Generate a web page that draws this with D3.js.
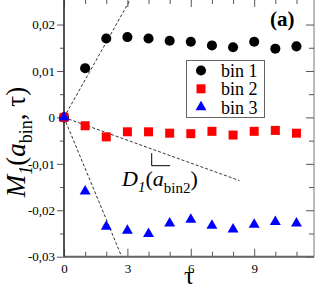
<!DOCTYPE html>
<html>
<head>
<meta charset="utf-8">
<script src="https://cdn.jsdelivr.net/npm/d3@7"></script>
<style>
  body { margin: 0; background: #fff; }
</style>
</head>
<body>
<div id="chart"></div>
<script>
// data
const tau = [0, 1, 2, 3, 4, 5, 6, 7, 8, 9, 10, 11];
const bin1 = [0, 0.0106, 0.0170, 0.0173, 0.0170, 0.0165, 0.0163, 0.0155, 0.0151, 0.0163, 0.0148, 0.0153];
const bin2 = [0, -0.0018, -0.0042, -0.0031, -0.0031, -0.0034, -0.0035, -0.0030, -0.0038, -0.0030, -0.0028, -0.0034];
const bin3 = [0, -0.0159, -0.0235, -0.0244, -0.0251, -0.0228, -0.0220, -0.0233, -0.0241, -0.0231, -0.0225, -0.0228];
const seriesNames = ["bin 1", "bin 2", "bin 3"];
const xTicks = [0, 3, 6, 9];
const yTicks = [-0.03, -0.02, -0.01, 0, 0.01, 0.02];
// dashed guide lines through the origin, [tau, value]
const guide1 = [[0, 0], [3.3, 0.0267]];
const guide2 = [[0, 0], [8.3, -0.0136]];
const guide3 = [[0, 0], [2.73, -0.03]];
const slopeMark = [[4.15, -0.0077], [4.15, -0.0104], [5.02, -0.0104]];

const FONT = "'Liberation Serif'";
const W = 316, H = 290;
const margin = { top: -1, left: 64 };
const width = 250, height = 257.7;

const svg = d3.select("#chart").append("svg")
  .attr("width", W).attr("height", H);
const g = svg.append("g")
  .attr("transform", `translate(${margin.left},${margin.top})`);

const x = d3.scaleLinear().domain([0, 11.83]).range([0, width]);
const y = d3.scaleLinear().domain([-0.03, 0.0255]).range([height, 0]);

const fmt = d => d === 0 ? "0" : d3.format(".2f")(d).replace(".", ",").replace("\u2212", "-");

// frame (top and right)
g.append("rect")
  .attr("x", 0).attr("y", 0).attr("width", width).attr("height", height)
  .attr("fill", "none").attr("stroke", "#777").attr("stroke-width", 1);

// minor ticks
const xMinor = d3.range(0, 12).filter(d => d % 3 !== 0);
const yMinor = d3.range(-0.025, 0.025, 0.01);

const bottomMinor = g.append("g").attr("transform", `translate(0,${height})`)
  .call(d3.axisBottom(x).tickValues(xMinor).tickSize(-5).tickFormat(""));
const topAxis = g.append("g")
  .call(d3.axisTop(x).tickValues(xMinor).tickSize(-5).tickFormat(""));
const topMajor = g.append("g")
  .call(d3.axisTop(x).tickValues(xTicks).tickSize(-8).tickFormat(""));
const leftMinor = g.append("g")
  .call(d3.axisLeft(y).tickValues(yMinor).tickSize(4).tickFormat(""));
const rightMinor = g.append("g").attr("transform", `translate(${width},0)`)
  .call(d3.axisRight(y).tickValues(yMinor).tickSize(-5).tickFormat(""));
const rightMajor = g.append("g").attr("transform", `translate(${width},0)`)
  .call(d3.axisRight(y).tickValues(yTicks).tickSize(-8).tickFormat(""));

// main axes
const xAxis = g.append("g").attr("transform", `translate(0,${height})`)
  .call(d3.axisBottom(x).tickValues(xTicks).tickSize(-8).tickPadding(7).tickFormat(d3.format("d")));
const yAxis = g.append("g")
  .call(d3.axisLeft(y).tickValues(yTicks).tickSize(7).tickPadding(2).tickFormat(fmt));

[bottomMinor, topAxis, topMajor, leftMinor, rightMinor, rightMajor, xAxis, yAxis].forEach(a => {
  a.select(".domain").remove();
  a.selectAll("line").attr("stroke", "#555").attr("stroke-width", 1);
});
[xAxis, yAxis].forEach(a => {
  a.selectAll("text").style("font-family", FONT).attr("font-size", 13).attr("fill", "#000");
});

// axis lines
g.append("line").attr("x1", 0).attr("x2", width).attr("y1", height).attr("y2", height)
  .attr("stroke", "#666").attr("stroke-width", 2);
g.append("line").attr("x1", 0).attr("x2", 0).attr("y1", 0).attr("y2", height)
  .attr("stroke", "#333").attr("stroke-width", 1.5);

// dashed guides
const line = d3.line().x(d => x(d[0])).y(d => y(d[1]));
g.append("clipPath").attr("id", "clip").append("rect")
  .attr("width", width).attr("height", height);
[guide1, guide2, guide3].forEach(pts => {
  g.append("path").attr("d", line(pts)).attr("clip-path", "url(#clip)")
    .attr("fill", "none").attr("stroke", "#333").attr("stroke-width", 1)
    .attr("stroke-dasharray", "3,2");
});
g.append("path").attr("d", line(slopeMark))
  .attr("fill", "none").attr("stroke", "#000").attr("stroke-width", 1);

// markers
const shapes = [
  { data: bin1, type: d3.symbolCircle, size: 80, color: "#000" },
  { data: bin2, type: d3.symbolSquare, size: 81, color: "#ff0000" },
  { data: bin3, type: d3.symbolTriangle, size: 52, color: "#0000ff" }
];
shapes.forEach(s => {
  g.selectAll(null)
    .data(tau.map((t, i) => [t, s.data[i]]))
    .enter().append("path")
    .attr("transform", d => `translate(${x(d[0])},${y(d[1])})`)
    .attr("d", d3.symbol().type(s.type).size(s.size))
    .attr("fill", s.color);
});

// legend
const legend = svg.append("g");
legend.append("rect")
  .attr("x", 186.5).attr("y", 60.5).attr("width", 78).attr("height", 57)
  .attr("fill", "#fff").attr("stroke", "#666").attr("stroke-width", 1);
shapes.forEach((s, i) => {
  const ly = 70.5 + i * 18.3;
  legend.append("path")
    .attr("transform", `translate(201,${ly})`)
    .attr("d", d3.symbol().type(s.type).size(s.size))
    .attr("fill", s.color);
  legend.append("text")
    .attr("x", 221).attr("y", ly + 6.5)
    .style("font-family", FONT)
    .attr("font-size", 18).text(seriesNames[i]);
});

// panel label
svg.append("text").attr("x", 270).attr("y", 26)
  .style("font-family", FONT)
  .attr("font-size", 21).attr("font-weight", "bold").text("(a)");

// D_1(a_bin2) annotation
const dl = svg.append("text").attr("x", 122).attr("y", 186)
  .style("font-family", FONT).attr("font-size", 22);
dl.append("tspan").attr("font-style", "italic").text("D");
dl.append("tspan").attr("font-style", "italic").attr("font-size", 15).attr("dy", 6).text("1");
dl.append("tspan").attr("dy", -6).text("(");
dl.append("tspan").attr("font-style", "italic").text("a");
dl.append("tspan").attr("font-size", 15).attr("dy", 7).text("bin2");
dl.append("tspan").attr("dy", -7).text(")");

// y label
const yl = svg.append("text")
  .attr("transform", "translate(24.5,142) rotate(-90)")
  .style("font-family", FONT)
  .attr("text-anchor", "middle").attr("font-size", 27);
yl.append("tspan").attr("font-style", "italic").text("M");
yl.append("tspan").attr("font-style", "italic").attr("font-size", 18).attr("dy", 7).text("1");
yl.append("tspan").attr("dy", -7).text("(");
yl.append("tspan").attr("font-style", "italic").text("a");
yl.append("tspan").attr("font-size", 18).attr("dy", 7).text("bin");
yl.append("tspan").attr("dy", -7).text(", \u03c4)");

// x label
svg.append("text").attr("x", 189).attr("y", 284)
  .style("font-family", FONT)
  .attr("text-anchor", "middle").attr("font-size", 25).text("\u03c4");
</script>
</body>
</html>
